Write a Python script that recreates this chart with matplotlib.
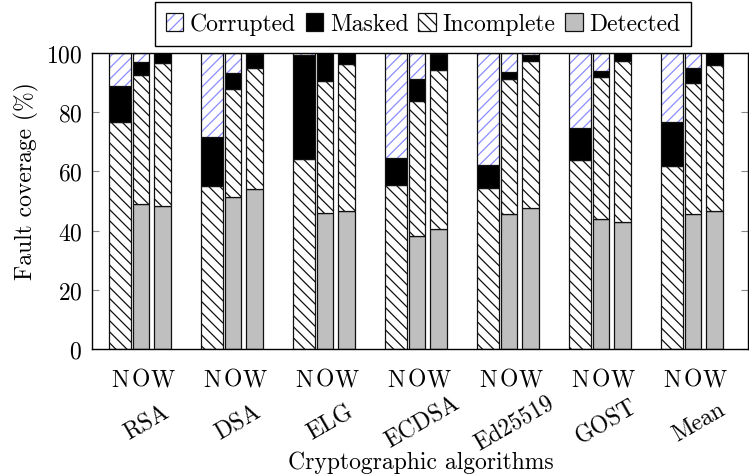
import matplotlib
matplotlib.use('Agg')
import matplotlib.pyplot as plt
from matplotlib.patches import Patch
import numpy as np

plt.rcParams['font.family'] = 'serif'
plt.rcParams['font.serif'] = ['cmr10', 'DejaVu Serif']
plt.rcParams['axes.formatter.use_mathtext'] = True
plt.rcParams['hatch.linewidth'] = 0.9

algorithms = ['RSA', 'DSA', 'ELG', 'ECDSA', 'Ed25519', 'GOST', 'Mean']
variants = ['N', 'O', 'W']

detected_N = [0, 0, 0, 0, 0, 0, 0]
incomplete_N = [76.6, 55.0, 64.2, 55.5, 54.4, 64.0, 61.7]
masked_N = [12.4, 16.5, 35.1, 9.0, 7.9, 10.7, 15.1]
corrupted_N = [11.0, 28.5, 0.7, 35.5, 37.7, 25.3, 23.2]

detected_O = [49.0, 51.2, 45.8, 38.1, 45.5, 43.8, 45.6]
incomplete_O = [43.6, 36.8, 44.8, 45.6, 45.7, 48.2, 44.1]
masked_O = [4.5, 5.2, 9.4, 7.5, 2.3, 2.0, 5.1]
corrupted_O = [2.9, 6.8, 0.0, 8.8, 6.5, 6.0, 5.2]

detected_W = [48.2, 53.9, 46.5, 40.5, 47.6, 42.8, 46.6]
incomplete_W = [48.4, 41.0, 49.8, 53.8, 49.8, 54.5, 49.4]
masked_W = [3.4, 4.8, 3.7, 5.4, 1.9, 2.7, 4.0]
corrupted_W = [0.0, 0.3, 0.0, 0.3, 0.7, 0.0, 0.0]

y_ticks = [0, 20, 40, 60, 80, 100]

series = {
    'N': (detected_N, incomplete_N, masked_N, corrupted_N),
    'O': (detected_O, incomplete_O, masked_O, corrupted_O),
    'W': (detected_W, incomplete_W, masked_W, corrupted_W),
}
offsets = {'N': -0.228, 'O': 0.0, 'W': 0.233}
widths = {'N': 0.23, 'O': 0.172, 'W': 0.18}

BLUE = '#8c8cff'
GRAY = '#bfbfbf'
EDGE = '#111111'
LW = 0.9

fig = plt.figure(figsize=(7.49, 4.77), dpi=100)
ax = fig.add_axes([92/749, 1-350/477, (748-92)/749, (350-54)/477])

x = np.arange(len(algorithms))
tick_pos = []
tick_lab = []
for v in variants:
    det, inc, mas, cor = [np.array(a, dtype=float) for a in series[v]]
    xs = x + offsets[v]
    w = widths[v]
    b = np.zeros(len(x))
    ax.bar(xs, det, w, bottom=b, color=GRAY, edgecolor=EDGE, linewidth=LW)
    b = b + det
    ax.bar(xs, inc, w, bottom=b, color='white', edgecolor=EDGE, hatch='\\\\\\', linewidth=LW)
    b = b + inc
    ax.bar(xs, mas, w, bottom=b, color='black', edgecolor=EDGE, linewidth=LW)
    b = b + mas
    ax.bar(xs, cor, w, bottom=b, color='white', edgecolor=BLUE, hatch='///', linewidth=0)
    ax.bar(xs, cor, w, bottom=b, fill=False, edgecolor=EDGE, linewidth=LW)
    tick_pos += list(xs)
    tick_lab += [v] * len(x)

ax.set_xlim((92-141)/92, (748-141)/92)
ax.set_ylim(0, 100)
ax.set_yticks(y_ticks)
ax.set_xticks(tick_pos)
ax.set_xticklabels(tick_lab)
ax.tick_params(axis='x', length=0, pad=14, labelsize=17)
ax.tick_params(axis='y', direction='in', length=5, color='#888888', left=True, right=True,
               pad=7, labelsize=17)
for s in ax.spines.values():
    s.set_linewidth(1.0)

for i, name in enumerate(algorithms):
    ax.annotate(name, xy=(i + 0.06, 0), xycoords=('data', 'axes fraction'),
                xytext=(0, -73), textcoords='offset pixels',
                ha='center', va='center', rotation=30, rotation_mode='anchor', fontsize=17)

fig.text(26/749, 1-181/477, 'Fault coverage (%)', rotation=90, ha='center', va='center', fontsize=17)
fig.text(421/749, 1-469/477, 'Cryptographic algorithms', ha='center', va='baseline', fontsize=17)

h_cor = (Patch(facecolor='white', edgecolor=BLUE, hatch='///', linewidth=0),
         Patch(fill=False, edgecolor=EDGE, linewidth=LW))
h_mas = Patch(facecolor='black', edgecolor=EDGE, linewidth=LW)
h_inc = Patch(facecolor='white', edgecolor=EDGE, hatch='\\\\\\', linewidth=LW)
h_det = Patch(facecolor=GRAY, edgecolor=EDGE, linewidth=LW)
leg = fig.legend([h_cor, h_mas, h_inc, h_det], ['Corrupted', 'Masked', 'Incomplete', 'Detected'],
                 loc='center', bbox_to_anchor=(423/749, 1-25/477), ncol=4, fontsize=17,
                 frameon=True, fancybox=False, edgecolor='black', framealpha=1,
                 handlelength=0.75, handleheight=0.75, handletextpad=0.28, columnspacing=0.4,
                 borderpad=0.45)
leg.get_frame().set_linewidth(1.0)

fig.savefig('out.png', dpi=100)
